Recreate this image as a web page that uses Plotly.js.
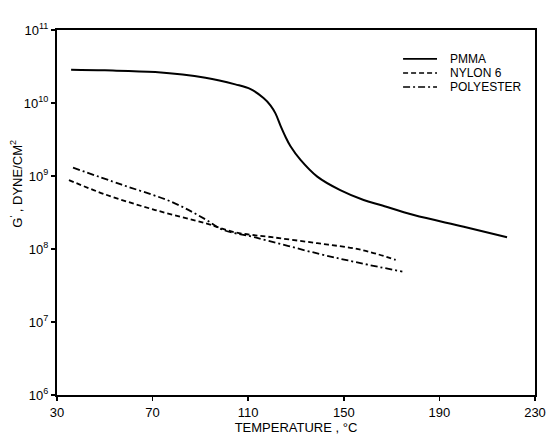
<!DOCTYPE html>
<html>
<head>
<meta charset="utf-8">
<script src="https://cdn.plot.ly/plotly-3.0.1.min.js"></script>
<style>html,body{margin:0;padding:0;background:#fff;}#chart{width:547px;height:437px;}</style>
</head>
<body>
<div id="chart"></div>
<script>
// Data
const pmmaT = [35.9, 50, 71.1, 92.1, 104.6, 111.0, 116.4, 119.3, 121.4, 123.5, 125.6, 127.7, 131.9, 138.9, 148.5, 158.3, 165.4, 179.3, 200.2, 218.3];
const pmmaG = [2.86e10, 2.8e10, 2.65e10, 2.22e10, 1.80e10, 1.55e10, 1.17e10, 9.3e9, 7.2e9, 4.9e9, 3.45e9, 2.55e9, 1.66e9, 9.8e8, 6.4e8, 4.69e8, 4.0e8, 2.92e8, 2.02e8, 1.45e8];

const nylonT = [35.0, 50.1, 71.1, 92.1, 104.6, 120, 138.9, 157.0, 171.7];
const nylonG = [8.8e8, 5.6e8, 3.42e8, 2.25e8, 1.69e8, 1.45e8, 1.20e8, 0.98e8, 7.1e7];

const polyT = [36.7, 57.1, 78.1, 92.1, 99.1, 113.0, 138.9, 157.0, 174.5];
const polyG = [1.30e9, 7.6e8, 4.4e8, 2.55e8, 1.85e8, 1.44e8, 8.7e7, 6.4e7, 4.9e7];

const seriesNames = ['PMMA', 'NYLON 6', 'POLYESTER'];
const xTicks = [30, 70, 110, 150, 190, 230];
const yTickVals = [1e6, 1e7, 1e8, 1e9, 1e10, 1e11];
const yTickText = ['10<sup>6</sup>', '10<sup>7</sup>', '10<sup>8</sup>', '10<sup>9</sup>', '10<sup>10</sup>', '10<sup>11</sup>'];

const FONT = 'Liberation Sans, Arial, Helvetica, sans-serif';
const dashes = ['solid', '5px,3px', '7px,3px,2px,3px'];
const widths = [2, 1.8, 1.8];

const traces = [
  {x: pmmaT, y: pmmaG, name: seriesNames[0], mode: 'lines',
   line: {color: '#000', width: widths[0], dash: dashes[0], shape: 'spline', smoothing: 1}},
  {x: nylonT, y: nylonG, name: seriesNames[1], mode: 'lines',
   line: {color: '#000', width: widths[1], dash: dashes[1], shape: 'spline', smoothing: 1}},
  {x: polyT, y: polyG, name: seriesNames[2], mode: 'lines',
   line: {color: '#000', width: widths[2], dash: dashes[2], shape: 'spline', smoothing: 1}}
];

// Manual legend (keys as paper-space lines, labels as annotations)
const legY = [0.921, 0.882, 0.844];
const shapes = seriesNames.map((n, i) => ({
  type: 'line', xref: 'paper', yref: 'paper',
  x0: 0.724, x1: 0.795, y0: legY[i], y1: legY[i],
  line: {color: '#000', width: widths[i] - 0.4, dash: dashes[i]}
}));
const annotations = seriesNames.map((n, i) => ({
  xref: 'paper', yref: 'paper', x: 0.818, y: legY[i],
  xanchor: 'left', yanchor: 'middle', showarrow: false, text: n,
  font: {family: FONT, size: 12, color: '#000'}
}));
annotations.push({
  xref: 'paper', yref: 'paper', x: -0.085, y: 0.58,
  xanchor: 'center', yanchor: 'middle', showarrow: false, textangle: -90,
  text: "G<sup>'</sup> , DYNE/CM<sup>2</sup>",
  font: {family: FONT, size: 13, color: '#000'}
});

const layout = {
  width: 547, height: 437,
  margin: {l: 57, r: 12, t: 30, b: 42},
  paper_bgcolor: '#fff', plot_bgcolor: '#fff',
  font: {family: FONT, color: '#000', size: 13},
  showlegend: false,
  shapes: shapes,
  annotations: annotations,
  xaxis: {
    range: [30, 230], tickvals: xTicks, ticktext: xTicks.map(String),
    showgrid: false, zeroline: false,
    showline: true, linecolor: '#000', linewidth: 2, mirror: true,
    ticks: 'outside', ticklen: 4, tickwidth: 1.5, tickcolor: '#000',
    tickfont: {family: FONT, size: 13},
    title: {text: 'TEMPERATURE , °C', font: {family: FONT, size: 13}, standoff: 4}
  },
  yaxis: {
    type: 'log', range: [6, 11], tickvals: yTickVals, ticktext: yTickText,
    showgrid: false, zeroline: false,
    showline: true, linecolor: '#000', linewidth: 2, mirror: true,
    ticks: 'outside', ticklen: 4, tickwidth: 1.5, tickcolor: '#000',
    tickfont: {family: FONT, size: 13}
  }
};

Plotly.newPlot('chart', traces, layout, {displayModeBar: false, staticPlot: true});
</script>
</body>
</html>
